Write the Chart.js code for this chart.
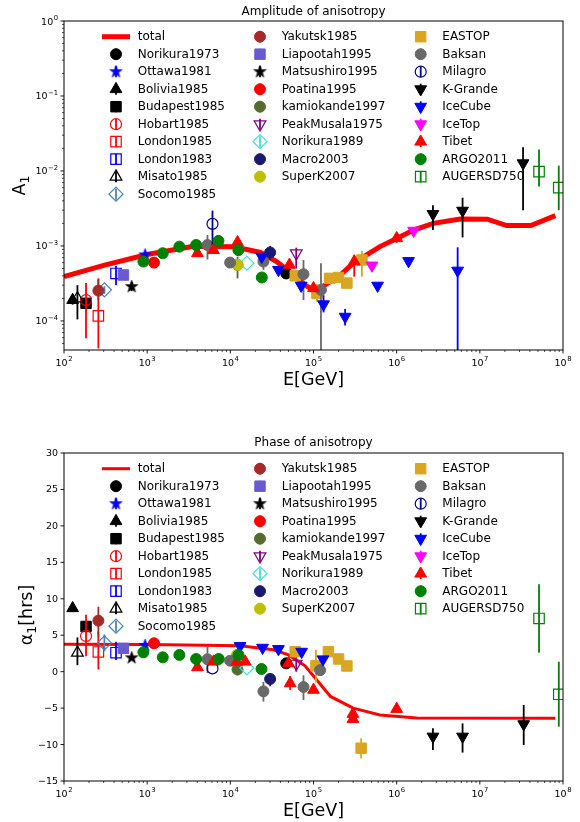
<!DOCTYPE html>
<html>
<head>
<meta charset="utf-8">
<script src="https://cdn.jsdelivr.net/npm/chart.js"></script>
<style>
html, body { margin: 0; padding: 0; background: #fff; }
#wrap { width: 580px; height: 822px; }
canvas { display: block; }
</style>
</head>
<body>
<div id="wrap">
  <canvas id="amp" width="580" height="411"></canvas>
  <canvas id="phase" width="580" height="411"></canvas>
</div>
<script>
// Tick labels (powers of ten / phase hours)
const eTickExp = [2, 3, 4, 5, 6, 7, 8];
const ampTickExp = [-4, -3, -2, -1, 0];
const phaseTicks = [-15, -10, -5, 0, 5, 10, 15, 20, 25, 30];

// Model curve "total"
const totalAmpE = [100, 300, 1000, 3600, 11000, 23000, 36000, 58000, 83000, 1.0e5, 1.3e5, 2.1e5, 3.0e5, 6.3e5, 1.0e6, 1.6e6, 2.75e6, 5.8e6, 1.23e7, 2.1e7, 4.1e7, 8.1e7];
const totalAmp = [3.9e-4, 5.5e-4, 7.7e-4, 9.9e-4, 9.8e-4, 8.2e-4, 6.2e-4, 4.1e-4, 2.9e-4, 2.6e-4, 2.9e-4, 4.1e-4, 5.9e-4, 9.8e-4, 1.26e-3, 1.63e-3, 2.0e-3, 2.29e-3, 2.28e-3, 1.87e-3, 1.87e-3, 2.54e-3];
const totalPhE = [100, 1000, 13000, 33000, 50000, 79000, 1.0e5, 1.6e5, 3.0e5, 6.3e5, 1.74e6, 8.1e7];
const totalPh = [3.75, 3.72, 3.55, 3.0, 2.3, 0.8, -0.6, -3.4, -5.0, -5.95, -6.36, -6.4];

// Measurements: [E(GeV), value, errLow, errHigh]
const ampNorikura1973 = [[47000, 4.3e-4]];
const phNorikura1973 = [[47000, 1.14]];
const ampOttawa1981 = [[944, 7.6e-4]];
const phOttawa1981 = [[944, 3.6]];
const ampBolivia1985 = [[127, 1.9e-4, 1.65e-4, 2.2e-4]];
const phBolivia1985 = [[127, 8.7]];
const ampBudapest1985 = [[184, 1.72e-4]];
const phBudapest1985 = [[184, 6.2]];
const ampHobart1985 = [[184, 1.9e-4, 5.9e-5, 3.2e-4]];
const phHobart1985 = [[184, 4.9, 2.1, 7.8]];
const ampLondon1985 = [[259, 1.17e-4, 4.3e-5, 3.6e-4]];
const phLondon1985 = [[259, 2.7, 0.3, 5.5]];
const ampLondon1983 = [[422, 4.3e-4, 3.0e-4, 5.4e-4]];
const phLondon1983 = [[422, 2.6, 1.6, 4.1]];
const ampMisato1985 = [[145, 2.0e-4, 1.05e-4, 3.0e-4]];
const phMisato1985 = [[145, 2.6, 0.9, 4.7]];
const ampSocomo1985 = [[306, 2.6e-4, 2.3e-4, 2.9e-4]];
const phSocomo1985 = [[306, 3.95, 2.8, 5.1]];
const ampYakutsk1985 = [[259, 2.54e-4, 1.9e-4, 3.7e-4]];
const phYakutsk1985 = [[259, 7.0, 4.8, 8.9]];
const ampLiapootah1995 = [[518, 4.1e-4]];
const phLiapootah1995 = [[518, 3.2]];
const ampMatsushiro1995 = [[652, 2.87e-4, 2.5e-4, 3.3e-4]];
const phMatsushiro1995 = [[652, 1.9]];
const ampPoatina1995 = [[1210, 6.0e-4]];
const phPoatina1995 = [[1210, 3.9]];
const ampKamiokande1997 = [[12200, 5.6e-4, 3.7e-4, 7.2e-4]];
const phKamiokande1997 = [[12200, 0.3, -0.5, 1.1]];
const ampPeakMusala1975 = [[62000, 8.0e-4, 5.0e-4, 9.5e-4]];
const phPeakMusala1975 = [[62000, 1.1, 0.0, 2.0]];
const ampNorikura1989 = [[15800, 5.9e-4]];
const phNorikura1989 = [[15800, 0.5]];
const ampMacro2003 = [[30100, 8.2e-4, 6.5e-4, 1.0e-3]];
const phMacro2003 = [[30100, -1.0, -2.0, -0.2]];
const ampSuperK2007 = [[12200, 5.6e-4]];
const phSuperK2007 = [[12000, 2.3]];
const ampEASTOP = [[60300, 4.0e-4], [1.1e5, 2.34e-4, 1.8e-4, 3.1e-4], [1.56e5, 3.7e-4], [2.0e5, 3.8e-4], [2.52e5, 3.2e-4], [3.82e5, 6.5e-4, 3.9e-4, 8.6e-4]];
const phEASTOP = [[60300, 2.74], [1.07e5, 0.8, -1.5, 3.0], [1.51e5, 2.74], [2.0e5, 1.74], [2.52e5, 0.78], [3.74e5, -10.5, -11.9, -9.15]];
const ampBaksan = [[5310, 1.03e-3, 6.6e-4, 1.4e-3], [9950, 6.0e-4], [25000, 6.2e-4, 4.8e-4, 8.0e-4], [75800, 4.2e-4, 1.9e-4, 6.5e-4], [1.23e5, 2.6e-4, 3.0e-5, 5.9e-4]];
const phBaksan = [[5310, 1.7, -0.2, 3.4], [9950, 1.5], [25000, -2.7, -4.1, -1.4], [75800, -2.1, -3.9, -0.5], [1.2e5, 0.2]];
const ampMilagro = [[6100, 1.97e-3, 1.03e-3, 2.96e-3]];
const phMilagro = [[6100, 0.45]];
const ampKGrande = [[2.73e6, 2.67e-3, 1.63e-3, 3.5e-3], [6.2e6, 2.96e-3, 1.3e-3, 4.4e-3], [3.31e7, 1.27e-2, 3.0e-3, 2.07e-2]];
const phKGrande = [[2.73e6, -8.9, -10.75, -7.77], [6.2e6, -8.9, -11.1, -7.1], [3.37e7, -7.2, -10.06, -4.57]];
const ampIceCube = [[23900, 7.2e-4], [37900, 4.8e-4], [71100, 2.96e-4], [1.32e5, 1.67e-4, 1.3e-4, 2.2e-4], [2.4e5, 1.14e-4, 8.7e-5, 1.45e-4], [5.9e5, 2.96e-4], [1.39e6, 6.3e-4], [5.41e6, 4.7e-4, 3.0e-5, 9.6e-4]];
const phIceCube = [[13100, 3.52], [24400, 3.29], [37900, 3.11], [72000, 2.74], [1.3e5, 1.7]];
const ampIceTop = [[5.04e5, 5.5e-4], [1.6e6, 1.6e-3]];
const phIceTop = [];
const ampTibet = [[4020, 8.0e-4], [6270, 8.8e-4], [12200, 1.12e-3], [51400, 5.6e-4], [1.0e5, 2.73e-4], [3.09e5, 6.2e-4, 3.9e-4, 7.6e-4], [1.0e6, 1.27e-3, 1.1e-3, 1.45e-3]];
const phTibet = [[4020, 0.6], [6270, 1.37], [12000, 1.37], [15070, 1.37], [50100, 1.15], [52400, -1.6, -2.5, -0.6], [1.0e5, -2.5], [2.98e5, -5.8, -5.0, -6.6], [2.98e5, -6.5], [1.0e6, -5.12]];
const ampARGO2011 = [[901, 6.2e-4], [1540, 8.0e-4], [2440, 9.8e-4], [3880, 1.03e-3], [7200, 1.17e-3], [12500, 8.8e-4], [23900, 3.8e-4]];
const phARGO2011 = [[901, 2.65], [1540, 1.97], [2440, 2.3], [3880, 1.74], [7260, 1.74], [12530, 2.3], [23700, 0.37]];
const ampAUGERSD750 = [[5.15e7, 9.8e-3, 6.2e-3, 1.94e-2], [8.89e7, 6.0e-3, 3.0e-3, 1.18e-2]];
const phAUGERSD750 = [[5.15e7, 7.3, 2.6, 12.0], [8.9e7, -3.1, -7.55, 1.37]];

// Series styles, in plotting (= legend) order
const series = [
  { name: 'Norikura1973', color: '#000000', marker: 'circle', amp: ampNorikura1973, ph: phNorikura1973 },
  { name: 'Ottawa1981', color: '#0000ff', marker: 'star', amp: ampOttawa1981, ph: phOttawa1981 },
  { name: 'Bolivia1985', color: '#000000', marker: 'tri', amp: ampBolivia1985, ph: phBolivia1985 },
  { name: 'Budapest1985', color: '#000000', marker: 'square', amp: ampBudapest1985, ph: phBudapest1985 },
  { name: 'Hobart1985', color: '#ff0000', marker: 'circle', open: true, amp: ampHobart1985, ph: phHobart1985 },
  { name: 'London1985', color: '#ff0000', marker: 'square', open: true, amp: ampLondon1985, ph: phLondon1985 },
  { name: 'London1983', color: '#0000ff', marker: 'square', open: true, amp: ampLondon1983, ph: phLondon1983 },
  { name: 'Misato1985', color: '#000000', marker: 'tri', open: true, amp: ampMisato1985, ph: phMisato1985 },
  { name: 'Socomo1985', color: '#4682b4', marker: 'diamond', open: true, amp: ampSocomo1985, ph: phSocomo1985 },
  { name: 'Yakutsk1985', color: '#a52a2a', marker: 'circle', amp: ampYakutsk1985, ph: phYakutsk1985 },
  { name: 'Liapootah1995', color: '#6a5acd', marker: 'square', amp: ampLiapootah1995, ph: phLiapootah1995 },
  { name: 'Matsushiro1995', color: '#000000', marker: 'star', amp: ampMatsushiro1995, ph: phMatsushiro1995 },
  { name: 'Poatina1995', color: '#ff0000', marker: 'circle', amp: ampPoatina1995, ph: phPoatina1995 },
  { name: 'kamiokande1997', color: '#556b2f', marker: 'circle', amp: ampKamiokande1997, ph: phKamiokande1997 },
  { name: 'PeakMusala1975', color: '#800080', marker: 'triDown', open: true, amp: ampPeakMusala1975, ph: phPeakMusala1975 },
  { name: 'Norikura1989', color: '#40e0d0', marker: 'diamond', open: true, amp: ampNorikura1989, ph: phNorikura1989 },
  { name: 'Macro2003', color: '#191970', marker: 'circle', amp: ampMacro2003, ph: phMacro2003 },
  { name: 'SuperK2007', color: '#bfbf00', marker: 'circle', amp: ampSuperK2007, ph: phSuperK2007 },
  { name: 'EASTOP', color: '#daa520', marker: 'square', amp: ampEASTOP, ph: phEASTOP },
  { name: 'Baksan', color: '#696969', marker: 'circle', amp: ampBaksan, ph: phBaksan },
  { name: 'Milagro', color: '#00008b', marker: 'circle', open: true, amp: ampMilagro, ph: phMilagro },
  { name: 'K-Grande', color: '#000000', marker: 'triDown', amp: ampKGrande, ph: phKGrande },
  { name: 'IceCube', color: '#0000ff', marker: 'triDown', amp: ampIceCube, ph: phIceCube },
  { name: 'IceTop', color: '#ff00ff', marker: 'triDown', amp: ampIceTop, ph: phIceTop },
  { name: 'Tibet', color: '#ff0000', marker: 'tri', amp: ampTibet, ph: phTibet },
  { name: 'ARGO2011', color: '#008000', marker: 'circle', amp: ampARGO2011, ph: phARGO2011 },
  { name: 'AUGERSD750', color: '#008000', marker: 'square', open: true, amp: ampAUGERSD750, ph: phAUGERSD750 }
];

const FONT = '"DejaVu Sans", "Liberation Sans", sans-serif';

// filled star marker (Chart.js has no filled star)
const starCache = {};
function starImage(color) {
  if (starCache[color]) return starCache[color];
  const r = 6.5, s = 15;
  const c = document.createElement('canvas');
  c.width = s; c.height = s;
  const g = c.getContext('2d');
  g.translate(s / 2, s / 2);
  g.beginPath();
  for (let k = 0; k < 10; k++) {
    const rr = k % 2 ? r * 0.39 : r;
    const a = -Math.PI / 2 + k * Math.PI / 5;
    g.lineTo(rr * Math.cos(a), rr * Math.sin(a));
  }
  g.closePath();
  g.fillStyle = color;
  g.fill();
  g.strokeStyle = color;
  g.lineWidth = 0.7;
  g.stroke();
  starCache[color] = c;
  return c;
}

function pointOpts(s) {
  const o = {
    pointBorderColor: s.color,
    pointBackgroundColor: s.open ? 'rgba(0,0,0,0)' : s.color,
    pointBorderWidth: s.open ? 1.2 : 1,
    pointRotation: 0
  };
  if (s.marker === 'circle') { o.pointStyle = 'circle'; o.pointRadius = 5.5; }
  if (s.marker === 'square') { o.pointStyle = 'rect'; o.pointRadius = 7.4; }
  if (s.marker === 'tri') { o.pointStyle = 'triangle'; o.pointRadius = 6.8; }
  if (s.marker === 'triDown') { o.pointStyle = 'triangle'; o.pointRadius = 6.8; o.pointRotation = 180; }
  if (s.marker === 'diamond') { o.pointStyle = 'rectRot'; o.pointRadius = 7; }
  if (s.marker === 'star') { o.pointStyle = starImage(s.color); o.pointRadius = 6; }
  return o;
}

function buildDatasets(key, totalE, totalV, lineW) {
  const n = series.length;
  const sets = [{
    label: 'total',
    data: totalE.map((e, i) => ({ x: e, y: totalV[i] })),
    showLine: true,
    borderColor: '#ff0000',
    borderWidth: lineW,
    pointRadius: 0,
    order: n + 1
  }];
  series.forEach((s, i) => {
    const arr = s[key];
    sets.push(Object.assign({
      label: s.name,
      data: arr.map(p => ({ x: p[0], y: p[1] })),
      errBars: arr.filter(p => p.length > 2),
      barColor: s.color,
      order: n - i
    }, pointOpts(s)));
  });
  return sets;
}

// error bars, drawn right before each dataset's markers
const errorBars = {
  id: 'errorBars',
  beforeDatasetDraw(chart, args) {
    const ds = chart.data.datasets[args.index];
    if (!ds.errBars || !ds.errBars.length) return;
    const { ctx, chartArea: a, scales: { x, y } } = chart;
    ctx.save();
    ctx.beginPath();
    ctx.rect(a.left, a.top, a.right - a.left, a.bottom - a.top);
    ctx.clip();
    ctx.strokeStyle = ds.barColor;
    ctx.lineWidth = 1.8;
    ds.errBars.forEach(p => {
      const px = x.getPixelForValue(p[0]);
      ctx.beginPath();
      ctx.moveTo(px, y.getPixelForValue(p[2]));
      ctx.lineTo(px, y.getPixelForValue(p[3]));
      ctx.stroke();
    });
    ctx.restore();
  }
};

function drawMarker(ctx, s, x, y) {
  const o = pointOpts(s);
  ctx.save();
  ctx.strokeStyle = s.color;
  ctx.lineWidth = 1.8;
  ctx.beginPath();
  ctx.moveTo(x, y - 5.5);
  ctx.lineTo(x, y + 5.5);
  ctx.stroke();
  ctx.fillStyle = o.pointBackgroundColor;
  ctx.strokeStyle = o.pointBorderColor;
  ctx.lineWidth = o.pointBorderWidth;
  Chart.helpers.drawPoint(ctx, { pointStyle: o.pointStyle, radius: o.pointRadius, rotation: o.pointRotation, borderWidth: o.pointBorderWidth }, x, y);
  ctx.restore();
}

// three column legend without frame
const legendCols = {
  id: 'legendCols',
  afterDatasetsDraw(chart, args, opts) {
    const { ctx, chartArea: a } = chart;
    const colMarker = [116, 260, 420.7], colText = [137.7, 281.7, 442.3];
    const entries = [{ name: 'total' }].concat(series);
    const y0 = a.top + 15.7, dy = 17.5;
    ctx.save();
    ctx.font = '12px ' + FONT;
    ctx.textBaseline = 'middle';
    ctx.textAlign = 'left';
    entries.forEach((s, k) => {
      let col, row;
      if (k < 10) { col = 0; row = k; } else if (k < 19) { col = 1; row = k - 10; } else { col = 2; row = k - 19; }
      const y = y0 + row * dy;
      if (s.name === 'total') {
        ctx.strokeStyle = '#ff0000';
        ctx.lineWidth = opts.lineW;
        ctx.beginPath();
        ctx.moveTo(colMarker[col] - 14, y);
        ctx.lineTo(colMarker[col] + 14, y);
        ctx.stroke();
      } else {
        drawMarker(ctx, s, colMarker[col], y);
      }
      ctx.fillStyle = '#000';
      ctx.fillText(s.name, colText[col], y + 0.5);
    });
    ctx.restore();
  }
};

function drawPow(ctx, exp, x, y, align) {
  const base = '10', sup = exp < 0 ? '\u2212' + (-exp) : String(exp);
  ctx.font = '9.5px ' + FONT;
  const wb = ctx.measureText(base).width;
  ctx.font = '6.8px ' + FONT;
  const ws = ctx.measureText(sup).width;
  const w = wb + ws + 0.5;
  const x0 = align === 'center' ? x - w / 2 : x - w;
  ctx.textAlign = 'left';
  ctx.textBaseline = 'alphabetic';
  ctx.font = '9.5px ' + FONT;
  ctx.fillText(base, x0, y + 4);
  ctx.font = '6.8px ' + FONT;
  ctx.fillText(sup, x0 + wb + 0.5, y - 0.8);
}

function logTicks(scale, exps, horiz, ctx, a) {
  const lo = exps[0], hi = exps[exps.length - 1];
  for (let e = lo - 1; e <= hi; e++) {
    for (let m = 1; m < 10; m++) {
      const v = m * Math.pow(10, e);
      if (v < scale.min * 0.999 || v > scale.max * 1.001) continue;
      const p = scale.getPixelForValue(v);
      const len = m === 1 ? 3.5 : 2;
      ctx.lineWidth = m === 1 ? 0.9 : 0.7;
      ctx.beginPath();
      if (horiz) { ctx.moveTo(p, a.bottom); ctx.lineTo(p, a.bottom + len); }
      else { ctx.moveTo(a.left, p); ctx.lineTo(a.left - len, p); }
      ctx.stroke();
    }
  }
}

// frame, ticks, tick labels, axis titles and title
const axesDecor = {
  id: 'axesDecor',
  afterDraw(chart, args, opts) {
    const { ctx, chartArea: a, scales: { x, y } } = chart;
    ctx.save();
    ctx.strokeStyle = '#000';
    ctx.fillStyle = '#000';
    logTicks(x, eTickExp, true, ctx, a);
    eTickExp.forEach(e => drawPow(ctx, e, x.getPixelForValue(Math.pow(10, e)), a.bottom + 12, 'center'));
    if (opts.logY) {
      logTicks(y, ampTickExp, false, ctx, a);
      ampTickExp.forEach(e => drawPow(ctx, e, a.left - 6, y.getPixelForValue(Math.pow(10, e)) - 0.5, 'right'));
    } else {
      ctx.font = '9.5px ' + FONT;
      ctx.textAlign = 'right';
      ctx.textBaseline = 'middle';
      phaseTicks.forEach(t => {
        const p = y.getPixelForValue(t);
        ctx.lineWidth = 0.9;
        ctx.beginPath();
        ctx.moveTo(a.left, p);
        ctx.lineTo(a.left - 3.5, p);
        ctx.stroke();
        ctx.fillText(t < 0 ? '\u2212' + (-t) : String(t), a.left - 6, p + 0.5);
      });
    }
    ctx.lineWidth = 1;
    ctx.strokeStyle = '#000';
    ctx.strokeRect(a.left, a.top, a.right - a.left, a.bottom - a.top);

    // title
    ctx.font = '12px ' + FONT;
    ctx.textAlign = 'center';
    ctx.textBaseline = 'middle';
    ctx.fillText(opts.title, (a.left + a.right) / 2, opts.titleY);

    // x axis title
    ctx.font = '17.5px ' + FONT;
    ctx.fillText('E[GeV]', (a.left + a.right) / 2, opts.xTitleY);

    // y axis title, rotated, with subscript
    ctx.translate(opts.yTitleX, (a.top + a.bottom) / 2 + opts.yTitleShift);
    ctx.rotate(-Math.PI / 2);
    ctx.textAlign = 'left';
    ctx.textBaseline = 'alphabetic';
    ctx.font = '17.5px ' + FONT;
    const w1 = ctx.measureText(opts.yMain).width;
    const w3 = ctx.measureText(opts.yTail).width;
    ctx.font = '12.5px ' + FONT;
    const w2 = ctx.measureText('1').width;
    const x0 = -(w1 + w2 + w3) / 2;
    ctx.font = '17.5px ' + FONT;
    ctx.fillText(opts.yMain, x0, 0);
    ctx.fillText(opts.yTail, x0 + w1 + w2, 0);
    ctx.font = '12.5px ' + FONT;
    ctx.fillText('1', x0 + w1, 4);
    ctx.restore();
  }
};

function makeChart(id, cfg) {
  return new Chart(document.getElementById(id), {
    type: 'scatter',
    data: { datasets: cfg.datasets },
    plugins: [errorBars, legendCols, axesDecor],
    options: {
      responsive: false,
      maintainAspectRatio: false,
      animation: false,
      devicePixelRatio: 1,
      events: [],
      layout: { padding: { left: 0, right: 17, top: cfg.top, bottom: 0 } },
      scales: {
        x: {
          type: 'logarithmic', min: 100, max: 1e8,
          ticks: { display: false }, grid: { display: false }, border: { display: false },
          afterFit: s => { s.height = cfg.xH; }
        },
        y: Object.assign({
          ticks: { display: false }, grid: { display: false }, border: { display: false },
          afterFit: s => { s.width = 64; }
        }, cfg.y)
      },
      plugins: {
        legend: { display: false },
        tooltip: { enabled: false },
        legendCols: { lineW: cfg.lineW },
        axesDecor: cfg.decor
      }
    }
  });
}

makeChart('amp', {
  datasets: buildDatasets('amp', totalAmpE, totalAmp, 5),
  top: 21, xH: 61, lineW: 5,
  y: { type: 'logarithmic', min: 4.1e-5, max: 1 },
  decor: { logY: true, title: 'Amplitude of anisotropy', titleY: 11.5, xTitleY: 380, yTitleX: 25, yTitleShift: 0, yMain: 'A', yTail: '' }
});

makeChart('phase', {
  datasets: buildDatasets('ph', totalPhE, totalPh, 3),
  top: 42, xH: 41, lineW: 3,
  y: { type: 'linear', min: -15, max: 30 },
  decor: { logY: false, title: 'Phase of anisotropy', titleY: 32, xTitleY: 400, yTitleX: 32, yTitleShift: -2, yMain: '\u03b1', yTail: '[hrs]' }
});
</script>
</body>
</html>
